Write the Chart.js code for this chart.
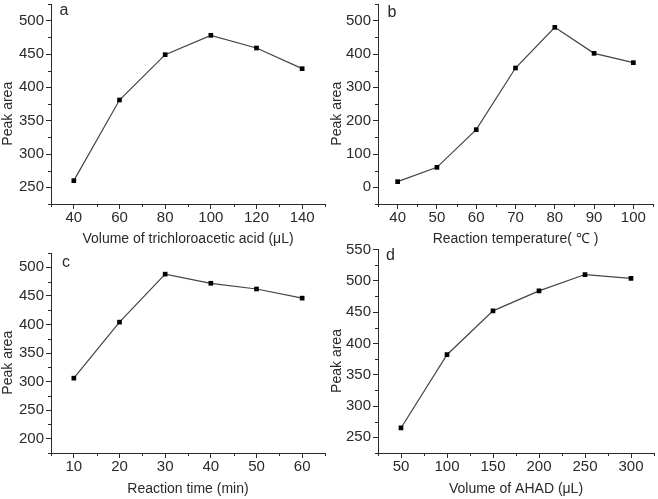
<!DOCTYPE html>
<html>
<head>
<meta charset="utf-8">
<script src="https://cdn.jsdelivr.net/npm/chart.js@4/dist/chart.umd.min.js"></script>
<style>
  body { margin: 0; background: #fff; }
  #wrap { position: relative; width: 658px; height: 499px; overflow: hidden; }
  canvas { position: absolute; }
</style>
</head>
<body>
<div id="wrap">
  <canvas id="ca" width="329" height="249" style="left:0;top:0"></canvas>
  <canvas id="cb" width="329" height="249" style="left:329px;top:0"></canvas>
  <canvas id="cc" width="329" height="250" style="left:0;top:249px"></canvas>
  <canvas id="cd" width="329" height="259" style="left:329px;top:240px"></canvas>
</div>
<script>
// panel a: trichloroacetic acid volume
const volTCA = [40, 60, 80, 100, 120, 140];
const areaTCA = [260, 381, 449, 478, 459, 428];
// panel b: reaction temperature
const temps = [40, 50, 60, 70, 80, 90, 100];
const areaTemp = [17, 60, 173, 358, 480, 402, 374];
// panel c: reaction time
const times = [10, 20, 30, 40, 50, 60];
const areaTime = [306, 404, 488, 472, 462, 446];
// panel d: AHAD volume
const volAHAD = [50, 100, 150, 200, 250, 300];
const areaAHAD = [265, 382, 452, 484, 510, 504];

// tick labels
const ticksXa = [40, 60, 80, 100, 120, 140];
const ticksYa = [250, 300, 350, 400, 450, 500];
const ticksXb = [40, 50, 60, 70, 80, 90, 100];
const ticksYb = [0, 100, 200, 300, 400, 500];
const ticksXc = [10, 20, 30, 40, 50, 60];
const ticksYc = [200, 250, 300, 350, 400, 450, 500];
const ticksXd = [50, 100, 150, 200, 250, 300];
const ticksYd = [250, 300, 350, 400, 450, 500, 550];

const ink = '#2a2a2a';
const fontName = "'Liberation Sans', Arial, sans-serif";

function between(from, to, step) {
  const out = [];
  for (let v = from; v <= to + 1e-9; v += step) out.push(v);
  return out;
}

// short unlabeled ticks between the major ones
const minorTicks = {
  id: 'minorTicks',
  afterDraw(chart, args, opts) {
    const ctx = chart.ctx;
    ctx.save();
    ctx.strokeStyle = ink;
    ctx.lineWidth = 1;
    const sx = chart.scales.x, sy = chart.scales.y;
    ctx.beginPath();
    (opts.x || []).forEach(v => {
      const px = Math.round(sx.getPixelForValue(v)) + 0.5;
      ctx.moveTo(px, sx.top);
      ctx.lineTo(px, sx.top + 3);
    });
    (opts.y || []).forEach(v => {
      const py = Math.round(sy.getPixelForValue(v)) + 0.5;
      ctx.moveTo(sy.right - 3, py);
      ctx.lineTo(sy.right, py);
    });
    ctx.stroke();
    ctx.restore();
  }
};

const panelLabel = {
  id: 'panelLabel',
  afterDraw(chart, args, opts) {
    const ctx = chart.ctx;
    ctx.save();
    ctx.fillStyle = ink;
    ctx.font = '16px ' + fontName;
    ctx.textAlign = 'center';
    ctx.textBaseline = 'middle';
    ctx.fillText(opts.text, chart.chartArea.left + opts.dx, chart.chartArea.top + opts.dy);
    ctx.restore();
  }
};

function noPad(s) {
  s.paddingTop = 0; s.paddingBottom = 0; s.paddingLeft = 0; s.paddingRight = 0;
}

function makePanel(id, xs, ys, cfg) {
  const scaleBase = {
    type: 'linear',
    border: { display: true, color: ink, width: 1 },
    grid: { display: true, drawOnChartArea: false, drawTicks: true, tickLength: 5, color: ink },
  };
  new Chart(document.getElementById(id), {
    type: 'scatter',
    data: {
      datasets: [{
        data: xs.map((x, i) => ({ x: x, y: ys[i] })),
        showLine: true,
        borderColor: '#444',
        borderWidth: 1.2,
        backgroundColor: '#000',
        pointBackgroundColor: '#000',
        pointBorderColor: '#000',
        pointBorderWidth: 0,
        pointStyle: 'rect',
        pointRadius: 3.3,
        tension: 0
      }]
    },
    options: {
      responsive: false,
      animation: false,
      layout: { padding: cfg.pad },
      scales: {
        x: Object.assign({}, scaleBase, {
          min: cfg.xr[0], max: cfg.xr[1],
          afterBuildTicks: s => { s.ticks = cfg.xt.map(v => ({ value: v })); },
          afterFit: s => { s.height = cfg.xh; noPad(s); },
          ticks: { color: ink, font: { family: fontName, size: 15 }, padding: 0, maxRotation: 0, autoSkip: false },
          title: { display: true, text: cfg.xtitle, color: ink, font: { family: fontName, size: 14, lineHeight: 1.2 }, padding: { top: 0, bottom: cfg.tb } }
        }),
        y: Object.assign({}, scaleBase, {
          min: cfg.yr[0], max: cfg.yr[1],
          afterBuildTicks: s => { s.ticks = cfg.yt.map(v => ({ value: v })); },
          afterFit: s => { s.width = cfg.yw; noPad(s); },
          ticks: { color: ink, font: { family: fontName, size: 15 }, padding: 2, autoSkip: false },
          title: { display: true, text: 'Peak area     ', color: ink, font: { family: fontName, size: 14, lineHeight: 1.2 }, padding: 0 }
        })
      },
      plugins: {
        legend: { display: false },
        tooltip: { enabled: false },
        minorTicks: { x: cfg.xm, y: cfg.ym },
        panelLabel: cfg.label
      }
    },
    plugins: [minorTicks, panelLabel]
  });
}

makePanel('ca', volTCA, areaTCA, {
  pad: { left: 0, right: 4, top: 4, bottom: 0 }, yw: 51, xh: 45, tb: 1,
  xr: [30, 150], yr: [225, 525], xt: ticksXa, yt: ticksYa,
  xm: between(30, 150, 20), ym: between(225, 525, 50),
  xtitle: 'Volume of trichloroacetic acid (μL)',
  label: { text: 'a', dx: 13, dy: 7 }
});

makePanel('cb', temps, areaTemp, {
  pad: { left: 0, right: 5, top: 3, bottom: 0 }, yw: 49, xh: 45, tb: 1,
  xr: [35, 105], yr: [-50, 550], xt: ticksXb, yt: ticksYb,
  xm: between(35, 105, 10), ym: between(-50, 550, 100),
  xtitle: 'Reaction temperature( ℃ )',
  label: { text: 'b', dx: 14, dy: 9 }
});

makePanel('cc', times, areaTime, {
  pad: { left: 0, right: 4, top: 4, bottom: 0 }, yw: 51, xh: 46, tb: 1,
  xr: [5, 65], yr: [175, 525], xt: ticksXc, yt: ticksYc,
  xm: between(5, 65, 10), ym: between(175, 525, 50),
  xtitle: 'Reaction time (min)',
  label: { text: 'c', dx: 15, dy: 9.5 }
});

makePanel('cd', volAHAD, areaAHAD, {
  pad: { left: 0, right: 4, top: 9.5, bottom: 0 }, yw: 49, xh: 46, tb: 1.6,
  xr: [25, 325], yr: [225, 550], xt: ticksXd, yt: ticksYd,
  xm: between(25, 325, 50), ym: between(225, 525, 50),
  xtitle: 'Volume of AHAD (μL)',
  label: { text: 'd', dx: 12.5, dy: 6.5 }
});
</script>
</body>
</html>
